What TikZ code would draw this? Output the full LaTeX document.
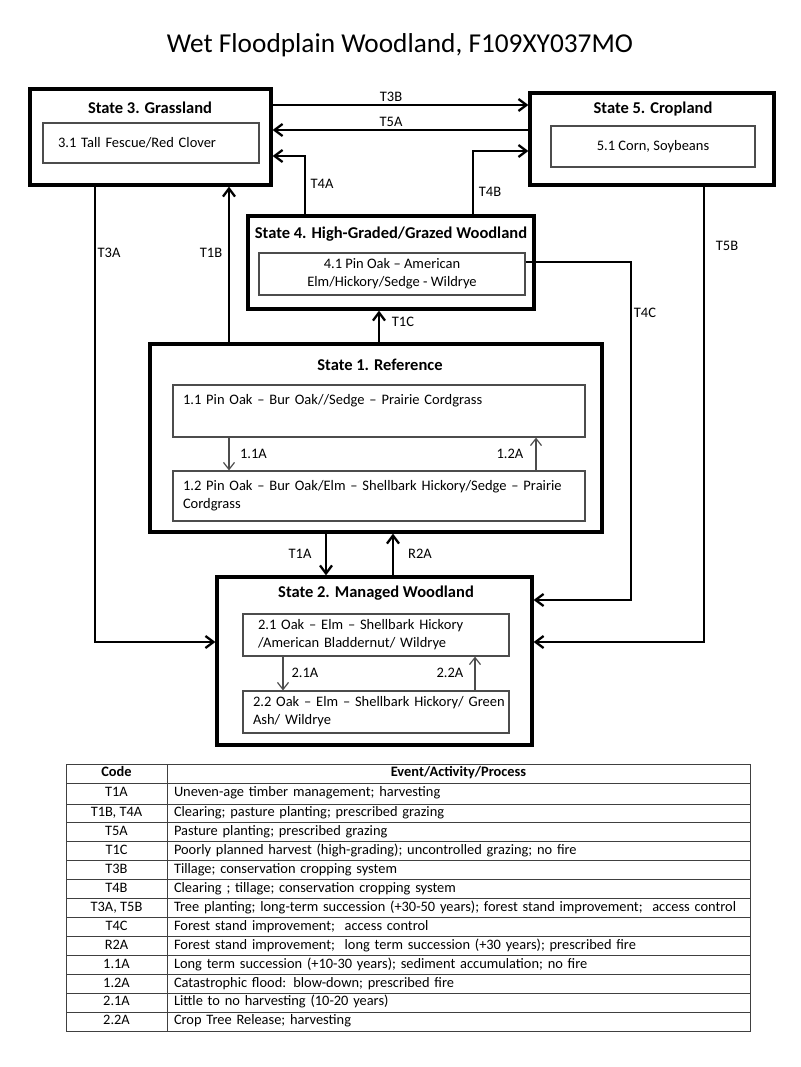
\documentclass[tikz,border=0pt]{standalone}
\usepackage{fontspec}
\setmainfont{Carlito}
\usetikzlibrary{arrows.meta}

\begin{document}
\begin{tikzpicture}[x=1pt,y=-1pt]
        \useasboundingbox (0,0) rectangle (800,1067);

        \node (title) at (400,45) {\fontsize{27.3}{31}\selectfont Wet Floodplain Woodland, F109XY037MO};

        \begin{scope}[every node/.style={rectangle, draw, line width=3.3pt, inner sep=0pt}]
        \node[minimum width=241pt, minimum height=96pt] (s3) at (150.5,137) {};
        \node[minimum width=244pt, minimum height=92pt] (s5) at (652,139) {};
        \node[minimum width=286pt, minimum height=93pt] (s4) at (391,262.5) {};
        \node[minimum width=452pt, minimum height=188pt] (s1) at (376,438) {};
        \node[minimum width=315pt, minimum height=168pt] (s2) at (374.5,661) {};
        \end{scope}

        \begin{scope}[every node/.style={font=\bfseries\fontsize{16.5}{20}\selectfont}]
        \node (t3) at (150,108) {State 3. Grassland};
        \node (t5) at (653,109) {State 5. Cropland};
        \node (t4) at (391,234) {State 4. High-Graded/Grazed Woodland};
        \node (t1) at (380,365) {State 1. Reference};
        \node (t2) at (376,593) {State 2. Managed Woodland};
        \end{scope}

        \begin{scope}[every node/.style={rectangle, draw=black!70, line width=1.2pt, inner sep=0pt, font=\fontsize{14.5}{18}\selectfont}]
        \node[minimum width=216pt, minimum height=40pt, text width=186pt, inner xsep=15pt, align=left] (b31) at (151,143) {3.1 Tall Fescue/Red Clover};
        \node[minimum width=204pt, minimum height=41pt] (b51) at (653,146.5) {5.1 Corn, Soybeans};
        \node[minimum width=266pt, minimum height=42pt, align=center] (b41) at (392,274) {4.1 Pin Oak – American\\Elm/Hickory/Sedge - Wildrye};
        \node[minimum height=52pt, text width=392pt, inner xsep=10pt, align=left] (b11) at (379,411) {1.1 Pin Oak – Bur Oak//Sedge – Prairie Cordgrass\\\strut};
        \node[minimum height=50pt, text width=392pt, inner xsep=10pt, align=left] (b12) at (379,496) {1.2 Pin Oak – Bur Oak/Elm – Shellbark Hickory/Sedge – Prairie\\Cordgrass};
        \node[minimum height=42pt, text width=236pt, inner xsep=15pt, align=left] (b21) at (376,635) {2.1 Oak – Elm – Shellbark Hickory\\/American Bladdernut/ Wildrye};
        \node[minimum height=42pt, text width=246pt, inner xsep=10pt, align=left] (b22) at (376,712) {\mbox{2.2 Oak – Elm – Shellbark Hickory/ Green}\\Ash/ Wildrye};
        \end{scope}

        \begin{scope}[>={Straight Barb[length=8pt,width=12pt]}, line width=2.3pt]
        \draw[->] (s3.east |- 0,105) -- (s5.west |- 0,105);
        \draw[->] (s5.west |- 0,130) -- (s3.east |- 0,130);
        \draw[->] (s4.north -| 305,0) |- (s3.east |- 0,156);
        \draw[->] (s4.north -| 473,0) |- (s5.west |- 0,151);
        \draw[->] (s1.north -| 229,0) -- (s3.south -| 229,0);
        \draw[->] (s1.north -| 379,0) -- (s4.south -| 379,0);
        \draw[->] (s3.south -| 95,0) |- (s2.west |- 0,642);
        \draw[->] (s5.south -| 704,0) |- (s2.east |- 0,642);
        \draw[->] (b41.east |- 0,262) -- (631,262) |- (s2.east |- 0,600);
        \draw[->] (s1.south -| 326,0) -- (s2.north -| 326,0);
        \draw[->] (s2.north -| 393,0) -- (s1.south -| 393,0);
        \end{scope}

        \begin{scope}[>={Straight Barb[length=7pt,width=11pt]}, line width=1.2pt, draw=black!70]
        \draw[->] (b11.south -| 229,0) -- (b12.north -| 229,0);
        \draw[->] (b12.north -| 536,0) -- (b11.south -| 536,0);
        \draw[->] (b21.south -| 283,0) -- (b22.north -| 283,0);
        \draw[->] (b22.north -| 475,0) -- (b21.south -| 475,0);
        \end{scope}

        \begin{scope}[every node/.style={font=\fontsize{14.5}{17}\selectfont}]
        \node (lT3B) at (391,97) {T3B};
        \node (lT5A) at (391,122) {T5A};
        \node (lT4A) at (322,184) {T4A};
        \node (lT4B) at (490,192) {T4B};
        \node (lT1B) at (211,253) {T1B};
        \node (lT3A) at (109,253) {T3A};
        \node (lT5B) at (727,246) {T5B};
        \node (lT4C) at (645,313) {T4C};
        \node (lT1C) at (403,322) {T1C};
        \node (lT1A) at (300,554) {T1A};
        \node (lR2A) at (420,554) {R2A};
        \node (l11A) at (253.5,454) {1.1A};
        \node (l12A) at (510,454) {1.2A};
        \node (l21A) at (305,673) {2.1A};
        \node (l22A) at (450,673) {2.2A};
        \end{scope}

        % table of transitions
        \begin{scope}[every node/.style={rectangle, draw=black!75, line width=0.9pt, inner sep=0pt, minimum height=18.92pt, text height=10pt, text depth=3.5pt, font=\fontsize{14.4}{16}\selectfont},
            codecell/.style={minimum width=101pt},
            eventcell/.style={text width=569pt, inner xsep=7pt, align=left}]
        \node[codecell, minimum height=19pt] (c0) at (116.5,773.5) {\bfseries Code};
        \node[minimum width=583pt, minimum height=19pt] (e0) at (458.5,773.5) {\bfseries Event/Activity/Process};
        \node[codecell, minimum height=21pt] (c1) at (116.5,793.5) {T1A};
        \node[eventcell, minimum height=21pt] (e1) at (458.5,793.5) {Uneven-age timber management; harvesting};
        \node[codecell] (c2) at (116.5,813.46) {T1B, T4A};
        \node[eventcell] (e2) at (458.5,813.46) {Clearing; pasture planting; prescribed grazing};
        \node[codecell] (c3) at (116.5,832.38) {T5A};
        \node[eventcell] (e3) at (458.5,832.38) {Pasture planting; prescribed grazing};
        \node[codecell] (c4) at (116.5,851.3) {T1C};
        \node[eventcell] (e4) at (458.5,851.3) {Poorly planned harvest (high-grading); uncontrolled grazing; no fire};
        \node[codecell] (c5) at (116.5,870.22) {T3B};
        \node[eventcell] (e5) at (458.5,870.22) {Tillage; conservation cropping system};
        \node[codecell] (c6) at (116.5,889.14) {T4B};
        \node[eventcell] (e6) at (458.5,889.14) {Clearing ; tillage; conservation cropping system};
        \node[codecell] (c7) at (116.5,908.06) {T3A, T5B};
        \node[eventcell] (e7) at (458.5,908.06) {\mbox{Tree planting; long-term succession (+30-50 years); forest stand improvement; \ access control}};
        \node[codecell] (c8) at (116.5,926.98) {T4C};
        \node[eventcell] (e8) at (458.5,926.98) {Forest stand improvement; \ access control};
        \node[codecell] (c9) at (116.5,945.9) {R2A};
        \node[eventcell] (e9) at (458.5,945.9) {Forest stand improvement; \ long term succession (+30 years); prescribed fire};
        \node[codecell] (c10) at (116.5,964.82) {1.1A};
        \node[eventcell] (e10) at (458.5,964.82) {Long term succession (+10-30 years); sediment accumulation; no fire};
        \node[codecell] (c11) at (116.5,983.74) {1.2A};
        \node[eventcell] (e11) at (458.5,983.74) {Catastrophic flood: blow-down; prescribed fire};
        \node[codecell] (c12) at (116.5,1002.66) {2.1A};
        \node[eventcell] (e12) at (458.5,1002.66) {Little to no harvesting (10-20 years)};
        \node[codecell] (c13) at (116.5,1021.58) {2.2A};
        \node[eventcell] (e13) at (458.5,1021.58) {Crop Tree Release; harvesting};
        \end{scope}
    \end{tikzpicture}
\end{document}
